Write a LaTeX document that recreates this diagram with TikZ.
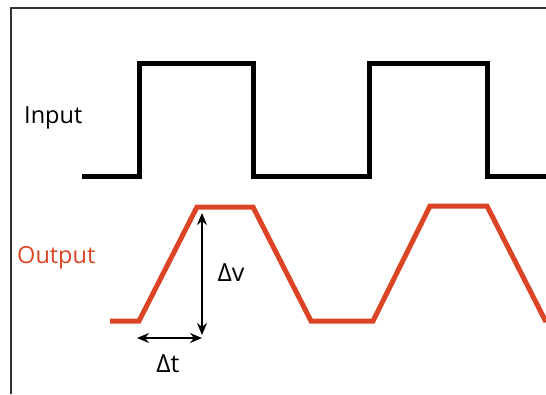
\documentclass[tikz,border=0pt]{standalone}
\usepackage{fontspec}
\setmainfont{Open Sans}
\usepackage{xcolor}
\usetikzlibrary{arrows.meta, positioning}
\definecolor{outred}{RGB}{219,69,38}

\begin{document}
\begin{tikzpicture}[x=1pt, y=-1pt,
        every node/.style={font=\fontsize{23.5}{26}\selectfont, inner sep=0pt},
        wave/.style={line width=5pt, line join=miter},
        arr/.style={{Stealth[length=12pt,width=10pt]}-{Stealth[length=12pt,width=10pt]}, line width=1.5pt}
    ]
        \useasboundingbox (0,0) rectangle (546,394);
        \draw[line width=1.6pt, black!80] (546,8) -- (11,8) -- (11,394);
        \node[anchor=west] (in) at (24,118) {Input};
        \node[anchor=west, text=outred] (out) at (17,258) {Output};
        % square wave in, slewed wave out
        \draw[wave] (82,176) -- (139,176) -- (139,63) -- (253,63) -- (253,176) -- (369,176) -- (369,63) -- (487,63) -- (487,176) -- (546,176);
        \draw[wave, outred] (110,321) -- (139,321) -- (197,207) -- (253,207) -- (311,321) -- (373,321) -- (430,206) -- (487,206) -- (546,322);
        \coordinate (vtop) at (202,213);
        \coordinate (vbot) at (202,335);
        \coordinate (tleft) at (137,338);
        \draw[arr] (vtop) -- (vbot);
        \draw[arr] (tleft) -- (tleft -| vbot);
        \node[font=\fontsize{25}{28}\selectfont] (dv) at (231,273) {Δv};
        \node[font=\fontsize{25}{28}\selectfont] (dt) at (168,364) {Δt};
    \end{tikzpicture}
\end{document}
